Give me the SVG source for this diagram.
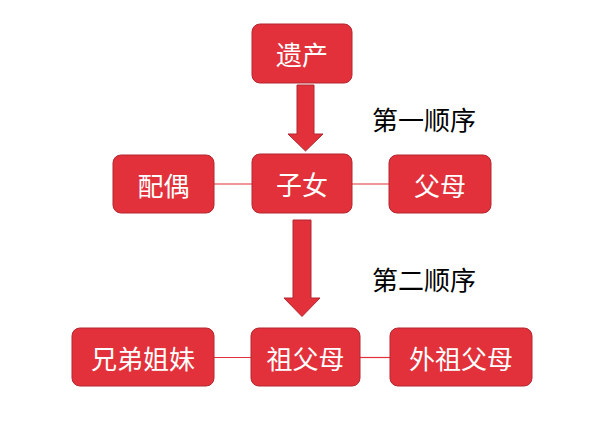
<svg xmlns="http://www.w3.org/2000/svg" width="597" height="428" viewBox="0 0 597 428">
<style>
.box{fill:#E2313B;stroke:#B3262E;stroke-width:1}
.t{fill:#ffffff;font-family:"Noto Sans CJK SC","Noto Sans",sans-serif;font-size:26px;text-anchor:middle;dominant-baseline:central}
.lbl{fill:#000000;font-family:"Noto Sans CJK SC","Noto Sans",sans-serif;font-size:26px;text-anchor:middle;dominant-baseline:central}
.ln{stroke:#E2313B;stroke-width:1.2;fill:none}
.arr{fill:#E2313B;stroke:#B3262E;stroke-width:1}
</style>
<rect width="597" height="428" fill="#ffffff"/>
<g id="connectors">
<line class="ln" x1="214" y1="184" x2="252" y2="184"/>
<line class="ln" x1="352" y1="184" x2="389" y2="184"/>
<line class="ln" x1="214" y1="357.5" x2="251" y2="357.5"/>
<line class="ln" x1="360" y1="357.5" x2="390" y2="357.5"/>
<polygon class="arr" points="297,85 314,85 314,134 323,134 305.5,151 288,134 297,134"/>
<polygon class="arr" points="293,220 311,220 311,298 320,298 302,316.5 284,298 293,298"/>
</g>
<g id="n-yichan"><rect class="box" x="252" y="24" width="100" height="59" rx="8"/><text class="t" x="302" y="53.5">遗产</text></g>
<g id="n-zinv"><rect class="box" x="252" y="154" width="100" height="59" rx="8"/><text class="t" x="302" y="183.5">子女</text></g>
<g id="n-peiou"><rect class="box" x="113" y="155" width="101" height="58" rx="8"/><text class="t" x="163.5" y="184">配偶</text></g>
<g id="n-fumu"><rect class="box" x="389" y="155" width="102" height="58" rx="8"/><text class="t" x="440" y="184">父母</text></g>
<g id="n-xiongdi"><rect class="box" x="72" y="328" width="142" height="58" rx="8"/><text class="t" x="143" y="357">兄弟姐妹</text></g>
<g id="n-zufumu"><rect class="box" x="251" y="328" width="109" height="58" rx="8"/><text class="t" x="305.5" y="357">祖父母</text></g>
<g id="n-waizufumu"><rect class="box" x="390" y="328" width="142" height="58" rx="8"/><text class="t" x="461" y="357">外祖父母</text></g>
<g id="labels">
<text class="lbl" x="424" y="118">第一顺序</text>
<text class="lbl" x="424" y="278">第二顺序</text>
</g>
</svg>
